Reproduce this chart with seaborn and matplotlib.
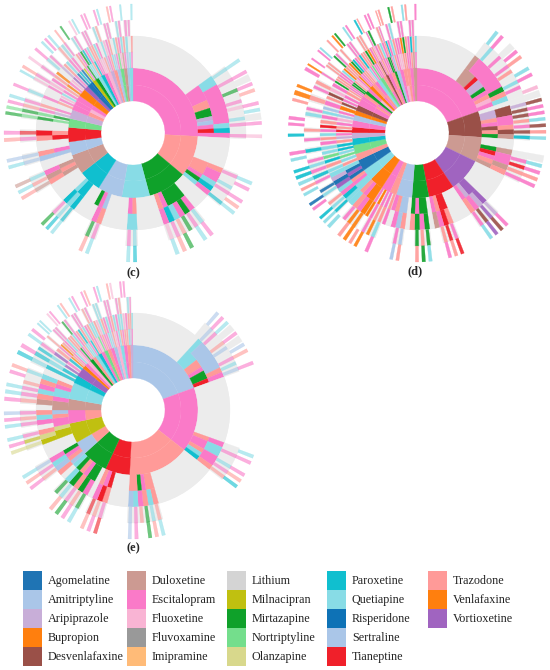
import matplotlib
matplotlib.use("Agg")
import matplotlib.pyplot as plt
from matplotlib.patches import Rectangle
import numpy as np
import seaborn as sns

# legend (column-major order) and colours
drug_names = ["Agomelatine", "Amitriptyline", "Aripiprazole", "Bupropion", "Desvenlafaxine",
              "Duloxetine", "Escitalopram", "Fluoxetine", "Fluvoxamine", "Imipramine",
              "Lithium", "Milnacipran", "Mirtazapine", "Nortriptyline", "Olanzapine",
              "Paroxetine", "Quetiapine", "Risperidone", "Sertraline", "Tianeptine",
              "Trazodone", "Venlafaxine", "Vortioxetine"]
drug_codes = ["G", "A", "R", "B", "D", "U", "E", "F", "X", "I", "L", "N", "M", "T", "O",
              "P", "Q", "K", "S", "Y", "Z", "V", "W"]
drug_colors = ["#1f74b4", "#aac6e8", "#c8aed8", "#ff7f0e", "#9a5048", "#cc9a92", "#fa7ac8",
               "#f9b4d4", "#999999", "#ffbb78", "#d4d4d4", "#c0c010", "#0fa12a", "#74de8c",
               "#d8d88c", "#10bfcf", "#88dce6", "#0e72b6", "#aac6e8", "#f0202a", "#ff9a98",
               "#ff7f0e", "#a064c0"]
GREY = "#ececec"

# ---- panel (c) ----
c_drugs = ["E", "Z", "M", "Q", "S", "P", "U", "A", "Y", "T", "R", "Z", "F", "E", "B", "W",
           "G", "K", "N", "M", "Q", "P", "E", "F", "R", "Z", "S", "T", "U", "A", "Q"]
c_sizes = [93, 37, 35, 25, 22, 20, 18, 12, 13, 8, 8, 5, 4, 5, 7, 4,
           4, 2, 3, 3, 3, 3, 3, 3, 3, 3, 3, 3, 3, 2, 3]
c_ring1 = ["E", "Z", "M", "Q", "S", "P", "U", "A", "Y", "T", "R", "E", "E", "E", "B", "W",
           "G", "K", "N", "M", "Q", "P", "E", "F", "R", "Z", "S", "T", "U", "A", "Q"]
c_ring2 = ["------------------EEEEZZMMRSEYE", "------ZZZEMQ", "---MMMMEZ-", "----ZE--",
           "---SEM-", "--PPQ--", "--UZU-", "-AE-", "-YZ-", "-TM", "RE-", "ZE", "FQ", "EZ",
           "BEF", "WE", "GP", "K", "NE", "MQ", "QZ", "PE", "EF", "FZ", "RE", "ZQ", "SE",
           "TF", "UE", "A", "QE"]
c_ring3 = ["------------------QQEEEEEEEEQPE", "------ZEEQPE", "---EMEQPE-", "----QQ--",
           "---ZE--", "--PQP--", "--ZUE-", "-AZ-", "-ZY-", "-MT", "EZ-", "E-", "-E", "FE",
           "ZB-", "RZ", "QE", "E", "-Z", "EM", "PE", "QZ", "ZQ", "E-", "QF", "EZ", "-Q",
           "ZE", "QZ", "Q", "-Z"]
c_ring4 = ["..................Q-E-M-EF-QE-E", "......E-QE-P", "...QEMZEF.", "....QE..",
           "...EM..", "..PQE..", "..UZQ.", ".AA.", ".EY.", ".TM", "ZE.", "Q.", ".F", "E.",
           "E.Q", "E.", ".Z", "Q", "E.", ".Q", "E.", ".E", "E.", ".Q", "Z.", ".E", "E.",
           ".Q", "E.", "E", "E."]
c_ring5 = ["..................Q.E-EZ.EQ-E.F", "......QE.EZQ", "...EQ.MZQ.", "....PQ..",
           "...QZ..", "..QPM..", "..ZQU.", ".QA.", ".ZE.", ".MT", "EQ.", "E.", ".Q", "Z.",
           "F.E", ".Q", "EQ", ".", "Z.", "M.", ".F", "Q.", ".E", "E.", ".E", "Q.", ".Z",
           "E.", ".Q", ".", ".Q"]

# ---- panel (d) ----
d_drugs = ["E", "D", "U", "W", "Y", "M", "S", "Z", "E", "B", "Q", "G", "Z", "T", "P", "R",
           "Y", "E", "S", "B", "D", "E", "Z", "E", "M", "F", "B", "E", "Z", "Q", "T", "E",
           "D", "Z", "E", "M", "S", "E", "F", "Z", "E", "U"]
d_sizes = [70, 23, 22, 30, 23, 15, 14, 6, 8, 12, 10, 10, 6, 8, 6, 5,
           5, 6, 5, 4, 5, 6, 3, 3, 3, 3, 3, 3, 3, 3, 3, 3,
           2, 3, 3, 2, 3, 3, 3, 3, 3, 3]
d_ring1 = ["E", "D", "U", "W", "Y", "M", "S", "Z", "E", "B", "Q", "G", "Z", "T", "P", "R",
           "Y", "E", "S", "B", "D", "E", "E", "Z", "M", "E", "B", "Z", "E", "Q", "T", "Z",
           "D", "E", "Z", "M", "S", "E", "Z", "Z", "E", "U"]
d_ring2 = ["------------UUUYRRMEZFE", "-RRZEDZM", "--MYEZU", "------WWRE", "----YYZE",
           "-MMEM", "-SSZE", "ZE", "EBE", "BBEZ", "QQEZ", "GWGQ", "ZQ", "TQP", "PZ", "RE",
           "YZ", "EF", "SE", "B", "DE", "EZ", "ZE", "EM", "MZ", "FE", "BE", "EZ", "ZF",
           "QE", "TE", "EZ", "DE", "ZE", "EM", "ME", "SZ", "EF", "FZ", "ZE", "EZ", "UE"]
d_ring3 = ["------------UEEEEEEEMZQ", "-DDEEZDU", "--UEEUZ", "------WREZ", "----ZYEU",
           "-MEMZ", "-ZSE-", "EZ", "ZEB", "BEZQ", "QPEQ", "WGRQ", "QZ", "PTQ", "QE", "ZQ",
           "EY", "ZE", "QS", "E", "ZD", "FE", "MZ", "ZE", "EQ", "BZ", "ZB", "MP", "EZ",
           "PZ", "ZM", "BE", "ZF", "EZ", "QE", "ZP", "EQ", "ZE", "EB", "MZ", "EP", "ZQ"]
d_ring4 = ["............-Q-E-EZ-QE-", "-RDDZEDP", "..-EYZE", "......RWDE", "....EYZ.",
           ".MZM.", ".SE..", ".Q", "BE.", "BBE.", "PQZ.", "QG.E", "PE", "QE.", "P.", "E.",
           "Z.", ".Q", "E.", "Z", ".E", "Z.", "E.", ".Z", "Z.", ".M", "E.", "Z.", ".E",
           "E.", ".Z", "Z.", ".E", "M.", ".Z", "E.", ".E", "Q.", ".E", "E.", ".E", "E."]
d_ring5 = ["............QE.-EZ.QE.F", "-DEEQDZQ", "..-QEZE", "......EDWQ", "....YZE.",
           ".QMZ.", ".ZS..", ".E", ".BZ", "BZ.Q", "QP.E", "G.QZ", "QP", "P.Q", "E.", ".P",
           ".E", "E.", ".Z", "B", "B.", ".E", "B.", "E.", ".E", "Q.", ".Z", ".B", "M.",
           ".Q", "E.", ".P", "Z.", ".E", "E.", ".Z", "Z.", ".M", "Z.", ".Q", "Z.", ".E"]

# ---- panel (e) ----
e_drugs = ["S", "E", "Z", "Y", "M", "Z", "N", "Z", "U", "Q", "P", "W", "B", "E", "F", "M",
           "Z", "Q", "P", "E", "T", "Z", "E", "A", "F", "Q", "E", "Z", "R"]
e_sizes = [70, 58, 55, 22, 23, 12, 18, 12, 10, 15, 7, 8, 3, 3, 3, 3,
           3, 3, 3, 3, 3, 3, 3, 3, 3, 3, 3, 3, 2]
e_ring1 = ["S", "E", "Z", "Y", "M", "S", "N", "E", "U", "Q", "P", "W", "B", "E", "F", "M",
           "Z", "Q", "P", "E", "T", "Z", "E", "A", "F", "Q", "E", "Z", "R"]
e_ring2 = ["--------------QQQZZEMMY", "-------------ZEEZQP", "------------ZZEMZZ",
           "----YEZ", "-MMEZMQ", "SZEM", "---NNO", "EEZA", "UUE", "QQEZ-", "PP", "WEP",
           "BZ", "EQ", "FE", "ME", "ZQ", "QE", "PZ", "EF", "TE", "ZE", "EQ", "AZ", "FE",
           "QZ", "EZ", "ZQ", "RE"]
e_ring3 = ["--------------QSSSSSSZE", "-------------EQQEEZ", "------------ZQZEQS",
           "----ZYE", "-EMZMQ-", "ZSQE", "---NOZ", "-EQZ", "-UZ", "QEZQ-", "PQ", "QWZ",
           "EB", "ZE", "QZ", "ZQ", "EZ", "PZ", "QE", "ZQ", "QZ", "FQ", "ZE", "QE", "ZQ",
           "EQ", "QF", "EZ", "ZQ"]
e_ring4 = [".............-SE-ZS-EQS", ".............-E-QEZ", "............ZQMZES",
           "....EZY", ".MZEQM.", ".ZES", "...ONE", ".EZE", ".ZE", "EZ-Q.", "QP", "PE.",
           "Z.", ".E", "E.", ".M", "E.", ".E", "E.", ".Z", "E.", ".Q", "Q.", ".E", "E.",
           ".E", "Z.", ".Q", "E."]
e_ring5 = [".............SEQ-E-SZ.E", ".............QE.EZP", "............QZM.ES",
           "....YEZ", ".QEMZ..", ".EZQ", "...OEQ", ".QEA", ".EQ", "Q.EZ.", "PE", ".QE",
           ".Q", "Q.", ".F", "E.", ".Q", "Z.", ".Q", "E.", ".E", "Z.", ".E", "Q.", ".Z",
           "F.", ".E", "E.", "."]

colour_of = dict(zip(drug_codes, drug_colors))


def draw_ring(ax, start, width, txt, bottom, height, alpha, stripe, underlay=False):
    # split a wedge evenly between the characters
    n = len(txt)
    step = width / n
    j = 0
    while j < n:
        ch = txt[j]
        k = j
        if ch == "-" or stripe >= 1:
            while k + 1 < n and txt[k + 1] == ch:
                k += 1
        span = (k - j + 1) * step
        if ch == "-" or (underlay and ch != "."):
            ax.bar(start + j * step, height, width=span, bottom=bottom,
                   align="edge", color=GREY, edgecolor=GREY, linewidth=0.2)
        if ch not in ".-":
            col = colour_of[ch]
            w = step * stripe if stripe < 1 else span
            ax.bar(start + j * step + (span - w) / 2, height, width=w,
                   bottom=bottom, align="edge", color=col, edgecolor=col,
                   linewidth=0.2, alpha=alpha)
        j = k + 1


def sunburst(ax, drugs, sizes, ring1, ring2, ring3, ring4, ring5, outer_alpha):
    ax.set_theta_zero_location("N")
    ax.set_theta_direction(-1)
    ax.bar(0, 32, width=2 * np.pi, bottom=65, align="edge", color=GREY, linewidth=0)
    sizes = np.asarray(sizes, dtype=float)
    widths = sizes / sizes.sum() * 2 * np.pi
    starts = np.concatenate([[0], np.cumsum(widths)[:-1]])
    for i in range(len(sizes)):
        small = sizes[i] <= 8
        thin = 0.6 if small else 1.0
        mid_alpha = min(1.0, outer_alpha + 0.15) if small else 1.0
        rings = [(32, 16, drugs, 1.0, 1.0, False), (48, 17, ring1, 1.0, 1.0, False),
                 (65, 16, ring2, mid_alpha, thin, False),
                 (81, 16, ring3, mid_alpha, thin, False),
                 (97, 16, ring4, outer_alpha, 0.55, True),
                 (113, 16, ring5, outer_alpha, 0.5, False)]
        for bottom, height, texts, alpha, stripe, under in rings:
            draw_ring(ax, starts[i], widths[i], texts[i], bottom, height, alpha, stripe,
                      under)
    ax.set_ylim(0, 130)
    ax.set_axis_off()


sns.set_theme(style="white")
plt.rcParams["font.family"] = ["Liberation Serif", "DejaVu Serif"]

W, H = 550, 670
fig = plt.figure(figsize=(5.5, 6.7), dpi=100)


def polar_axes(cx, cy, r=130):
    return fig.add_axes([(cx - r) / W, (H - cy - r) / H, 2 * r / W, 2 * r / H],
                        projection="polar")


ax_c = polar_axes(133, 133)
sunburst(ax_c, c_drugs, c_sizes, c_ring1, c_ring2, c_ring3, c_ring4, c_ring5, 0.6)
ax_d = polar_axes(417, 133)
sunburst(ax_d, d_drugs, d_sizes, d_ring1, d_ring2, d_ring3, d_ring4, d_ring5, 0.9)
ax_e = polar_axes(133, 410)
sunburst(ax_e, e_drugs, e_sizes, e_ring1, e_ring2, e_ring3, e_ring4, e_ring5, 0.6)

for label, x, y in [("(c)", 133, 273), ("(d)", 415, 271), ("(e)", 133, 548)]:
    fig.text(x / W, 1 - y / H, label, ha="center", va="center", fontsize=9,
             fontweight="bold")

# legend, drawn by hand so that it fills column by column (5 rows)
col_x = [23, 127, 227, 327, 428]
for idx, (name, col) in enumerate(zip(drug_names, drug_colors)):
    c, r = divmod(idx, 5)
    top = 571 + r * 19
    fig.patches.append(Rectangle((col_x[c] / W, 1 - (top + 19) / H), 19 / W, 19 / H,
                                 transform=fig.transFigure, color=col, linewidth=0))
    fig.text((col_x[c] + 25) / W, 1 - (top + 10) / H, name, ha="left", va="center",
             fontsize=8.7, color="#222222")

fig.savefig("out.png", dpi=100)
